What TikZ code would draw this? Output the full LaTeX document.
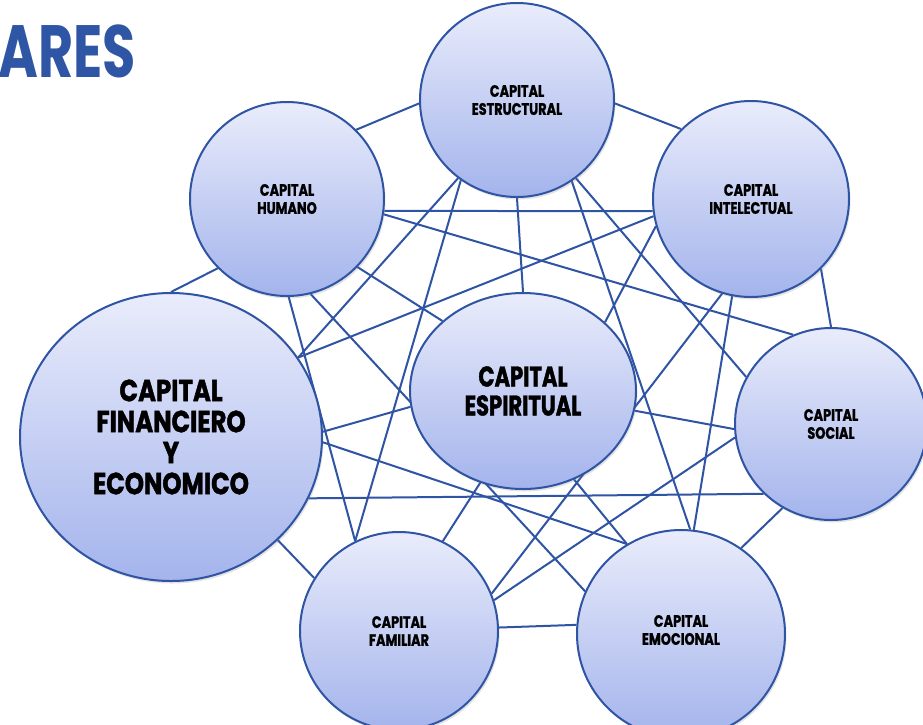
\documentclass[tikz,border=0pt]{standalone}
\usepackage{fontspec}
\newfontfamily\lblfont{Poppins}[FakeStretch=0.78,FakeBold=1.2]
\newfontfamily\lblfontL{Poppins}[FakeStretch=0.74,FakeBold=1.4]
\newfontfamily\lblfontF{Poppins}[FakeStretch=0.8,FakeBold=1.4]
\newfontfamily\ttlfont{Poppins}[FakeStretch=0.73]
\usetikzlibrary{shapes.geometric,shadows,backgrounds}
\definecolor{lineblue}{RGB}{47,84,163}
\definecolor{ctop}{RGB}{233,236,251}
\definecolor{cbot}{RGB}{164,180,236}
\definecolor{ttlblue}{RGB}{47,85,165}
\begin{document}
\begin{tikzpicture}[x=1pt,y=-1pt,
  capnode/.style={draw=lineblue, line width=2pt, top color=ctop, bottom color=cbot,
    inner sep=0pt, align=center, text=black,
    drop shadow={opacity=0.22, shadow xshift=1.5pt, shadow yshift=-2.5pt}},
  capsmall/.style={capnode, circle, font=\lblfont\bfseries\fontsize{16.5}{18}\selectfont},
  linkline/.style={draw=lineblue, line width=2pt}]
\useasboundingbox (0,0) rectangle (923,724);
\clip (0,0) rectangle (923,724);
% title
\node[anchor=base east, inner sep=0pt, text=ttlblue,
  font=\ttlfont\bfseries\fontsize{74}{74}\selectfont] (T) at (136,77) {ARES};
% nodes
\node[capsmall, minimum size=194pt] (E) at (517,100) {CAPITAL\\ESTRUCTURAL};
\node[capsmall, minimum size=194pt] (H) at (287,199) {CAPITAL\\HUMANO};
\node[capsmall, minimum size=196pt] (I) at (751,199) {CAPITAL\\INTELECTUAL};
\node[capnode, ellipse, minimum width=302pt, minimum height=288pt,
  font=\lblfontF\bfseries\fontsize{30.5}{31}\selectfont] (F) at (171,437)
  {CAPITAL\\FINANCIERO\\Y\\ECONOMICO};
\node[capnode, ellipse, minimum width=226pt, minimum height=196pt,
  font=\lblfontL\bfseries\fontsize{28.5}{29}\selectfont] (S) at (523,391)
  {CAPITAL\\ESPIRITUAL};
\node[capsmall, minimum size=192pt] (So) at (831,424) {CAPITAL\\SOCIAL};
\node[capsmall, minimum size=198pt] (Fa) at (399,631) {CAPITAL\\FAMILIAR};
\node[capsmall, minimum size=208pt,
  label={[font=\lblfont\bfseries\fontsize{16.5}{18}\selectfont, align=center,
    inner sep=0pt, yshift=4pt]center:CAPITAL\\EMOCIONAL}] (Em) at (681,634) {};
% connectors
\begin{scope}[on background layer]
\fill[white] (0,0) rectangle (923,724);
\draw[linkline] (E.182) -- (H.45);
\draw[linkline] (E.358) -- (I.135);
\draw[linkline] (E.233) -- (F.32);
\draw[linkline] (E.235) -- (Fa.116);
\draw[linkline] (E.270) -- (S.90);
\draw[linkline] (E.304) -- (Em.85);
\draw[linkline] (E.307) -- (So.151);
\draw[linkline] (H.353) -- (I.187);
\draw[linkline] (H.351) -- (So.113);
\draw[linkline] (H.316) -- (S.139);
\draw[linkline] (H.271) -- (Fa.116);
\draw[linkline] (H.225) -- (F.90);
\draw[linkline] (H.284) -- (Em.156);
\draw[linkline] (I.190) -- (F.32);
\draw[linkline] (I.196) -- (S.40);
\draw[linkline] (I.253) -- (Fa.22);
\draw[linkline] (I.259) -- (Em.83);
\draw[linkline] (I.315) -- (So.90);
\draw[linkline] (F.2) -- (S.188);
\draw[linkline] (F.358) -- (Em.121);
\draw[linkline] (F.336) -- (So.226);
\draw[linkline] (F.316) -- (Fa.148);
\draw[linkline] (S.350) -- (So.183);
\draw[linkline] (S.245) -- (Fa.64);
\draw[linkline] (S.300) -- (Em.121);
\draw[linkline] (So.188) -- (Fa.18);
\draw[linkline] (So.240) -- (Em.55);
\draw[linkline] (Fa.2) -- (Em.175);
\end{scope}
\end{tikzpicture}
\end{document}
